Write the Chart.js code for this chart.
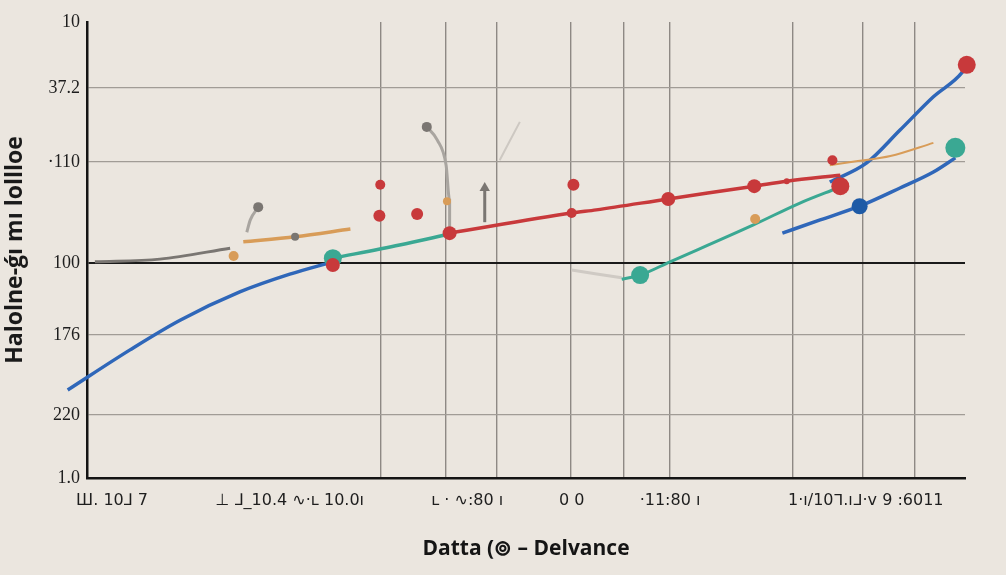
<!DOCTYPE html>
<html>
<head>
<meta charset="utf-8">
<script src="https://cdn.jsdelivr.net/npm/chart.js@4.4.1/dist/chart.umd.min.js"></script>
<style>
  html, body { margin: 0; padding: 0; background: #ebe6df; }
  #wrap { width: 1006px; height: 575px; position: relative; }
</style>
</head>
<body>
<div id="wrap"><canvas id="chart"></canvas></div>
<script>
// tick labels (as printed on the picture)
const xTickValues = [2.85, 23.1, 43.3, 55.2, 66.4, 88.7];
const xTickLabels = ['Ш. 10⅃ 7', '⊥ ⅃_10.4 ∿·ʟ 10.0ı', 'ʟ · ∿꞉80 ı', '0 0', '·11꞉80 ı', '1·ı/10ᒣ.ıᒧ·v 9 ꞉6011'];
const xGridValues = [33.4, 40.8, 46.7, 55.1, 61.1, 66.4, 80.4, 88.3, 94.3];
const yTickValues = [0, 13.8, 31.4, 47.1, 69.3, 85.5, 100];
const yTickLabels = ['1.0', '220', '176', '100', '·110', '37.2', '10'];

// line series [x, y]
const blueLeft = [[-2.2, 19.3], [4.9, 28.1], [10.6, 34.6], [17.4, 40.8], [23.1, 44.7], [28.0, 47.4]];
const tealLeft = [[28.0, 48.2], [35.6, 51.1], [41.3, 53.5]];
const redMain = [[41.3, 53.7], [55.2, 58.1], [58.0, 58.8], [66.2, 61.2], [76.0, 64.0], [79.7, 65.1], [85.8, 66.4]];
const orangeRight = [[84.6, 68.6], [87.8, 69.5], [91.5, 70.6], [96.4, 73.5]];
const tealRight = [[60.9, 43.6], [63.0, 44.5], [66.4, 47.4], [75.9, 55.5], [81.2, 60.3], [85.5, 63.6]];
const blueUpper = [[84.6, 64.9], [88.8, 69.1], [92.6, 76.3], [96.4, 83.6], [99.7, 89.0], [100.2, 90.6]];
const blueLower = [[79.2, 53.7], [83.5, 56.6], [88.0, 59.6], [92.6, 63.6], [96.4, 67.1], [98.9, 70.2]];
const grayLeft = [[0.9, 47.4], [8.3, 48.0], [16.3, 50.4]];
const orangeLeft = [[17.8, 51.8], [23.7, 52.9], [30.0, 54.6]];
const grayHook = [[38.7, 77.0], [39.9, 74.1], [40.9, 68.6], [41.3, 60.9], [41.3, 54.4]];
const grayHookSmall = [[19.5, 59.4], [18.6, 56.6], [18.2, 53.9]];
const grayArrow = [[45.3, 56.1], [45.3, 63.6]];
const grayFaint = [[47.0, 69.7], [49.3, 78.1]];
const grayLow = [[55.2, 45.6], [60.9, 43.9]];

// markers [x, y, size]
const redDots = [[33.4, 64.3, 5], [33.3, 57.5, 6], [37.6, 57.9, 6], [55.4, 64.3, 6], [84.9, 69.7, 5], [79.7, 65.1, 3],
                 [55.2, 58.1, 5], [66.2, 61.2, 7], [76.0, 64.0, 7], [41.3, 53.7, 7], [85.8, 64.0, 9], [28.0, 46.7, 7], [100.2, 90.6, 9]];
const tealDots = [[28.0, 48.2, 9], [63.0, 44.5, 9], [98.9, 72.4, 10]];
const blueDots = [[88.0, 59.6, 8]];
const orangeDots = [[76.1, 56.8, 5], [16.7, 48.7, 5], [41.0, 60.7, 4]];
const grayDots = [[19.5, 59.4, 5], [38.7, 77.0, 5], [23.7, 52.9, 4]];

const BLUE = '#2f67b9';
const TEAL = '#3aa893';
const RED = '#c8393b';
const ORANGE = '#d89c58';
const GRAY = '#7a7672';

const pts = arr => arr.map(p => ({ x: p[0], y: p[1] }));

function lineSet(arr, color, width, extra = {}) {
  return Object.assign({
    type: 'line',
    data: pts(arr),
    borderColor: color,
    borderWidth: width,
    pointRadius: 0,
    tension: 0.4,
    cubicInterpolationMode: 'monotone',
    clip: false,
    order: 2
  }, extra);
}

function dotSet(arr, color) {
  return {
    type: 'scatter',
    data: pts(arr),
    backgroundColor: color,
    borderColor: color,
    pointRadius: arr.map(p => p[2]),
    borderWidth: 0,
    clip: false,
    order: 0
  };
}

const ctx = document.getElementById('chart').getContext('2d');
new Chart(ctx, {
  type: 'line',
  data: {
    datasets: [
      dotSet(redDots, RED),
      dotSet(tealDots, TEAL),
      dotSet(blueDots, '#1d5aa6'),
      dotSet(orangeDots, ORANGE),
      dotSet(grayDots, GRAY),
      lineSet(blueLeft, BLUE, 3.5),
      lineSet(tealLeft, TEAL, 3.5),
      lineSet(redMain, RED, 3.5),
      lineSet(orangeRight, ORANGE, 2),
      lineSet(tealRight, TEAL, 3),
      lineSet(blueUpper, BLUE, 3.5),
      lineSet(blueLower, BLUE, 3.5),
      lineSet(grayLeft, GRAY, 3),
      lineSet(orangeLeft, ORANGE, 3.5),
      lineSet(grayHook, '#a9a5a0', 3),
      lineSet(grayHookSmall, '#a9a5a0', 3),
      lineSet(grayArrow, GRAY, 3, { pointRadius: [0, 6], pointStyle: 'triangle', pointBackgroundColor: GRAY, pointBorderWidth: 0 }),
      lineSet(grayFaint, '#cdc8c2', 2),
      lineSet(grayLow, '#cfcac4', 3)
    ]
  },
  options: {
    responsive: true,
    maintainAspectRatio: false,
    animation: false,
    layout: { padding: { top: 22, right: 41, left: 0, bottom: 0 } },
    plugins: {
      legend: { display: false },
      tooltip: { enabled: false }
    },
    scales: {
      x: {
        type: 'linear',
        position: 'bottom',
        min: 0,
        max: 100,
        afterBuildTicks: axis => { axis.ticks = xTickValues.map(v => ({ value: v })); },
        afterFit: axis => { axis.height = 97; },
        ticks: {
          autoSkip: false,
          maxRotation: 0,
          padding: 5,
          color: '#1e1e1e',
          font: { family: 'DejaVu Sans', size: 16 },
          callback: (v, i) => xTickLabels[i]
        },
        grid: { drawOnChartArea: false, color: 'rgba(0,0,0,0)', tickLength: 8 },
        border: { color: '#141414', width: 2.5 },
        title: {
          display: true,
          text: 'Datta (⊚ – Delvance',
          color: '#151515',
          font: { family: 'Open Sans', size: 21, weight: 'bold' },
          padding: { top: 12, bottom: 13 }
        }
      },
      x2: {
        type: 'linear',
        position: 'top',
        min: 0,
        max: 100,
        afterBuildTicks: axis => { axis.ticks = xGridValues.map(v => ({ value: v })); },
        afterFit: axis => { axis.height = 0; },
        ticks: { display: false },
        grid: { color: '#8e8984', lineWidth: 1.4, drawTicks: false },
        border: { display: false }
      },
      y: {
        type: 'linear',
        min: 0,
        max: 100,
        afterBuildTicks: axis => { axis.ticks = yTickValues.map(v => ({ value: v })); },
        afterFit: axis => { axis.width = 87; },
        ticks: {
          padding: 7,
          color: '#1e1e1e',
          font: { family: 'Liberation Serif', size: 18 },
          callback: (v, i) => yTickLabels[i]
        },
        grid: {
          drawTicks: false,
          color: c => (c.tick.value === 0 || c.tick.value === 100) ? 'rgba(0,0,0,0)'
                     : (c.tick.value === 47.1 ? '#1a1a1a' : '#a19c96'),
          lineWidth: c => c.tick.value === 47.1 ? 2 : 1.3
        },
        border: { color: '#141414', width: 2.5 },
        title: {
          display: true,
          text: 'Halolne-ǵı mı lollloe',
          color: '#1a1a1a',
          font: { family: 'Open Sans', size: 23, weight: 'bold' },
          padding: { top: 2, bottom: 0 }
        }
      }
    }
  }
});
</script>
</body>
</html>
